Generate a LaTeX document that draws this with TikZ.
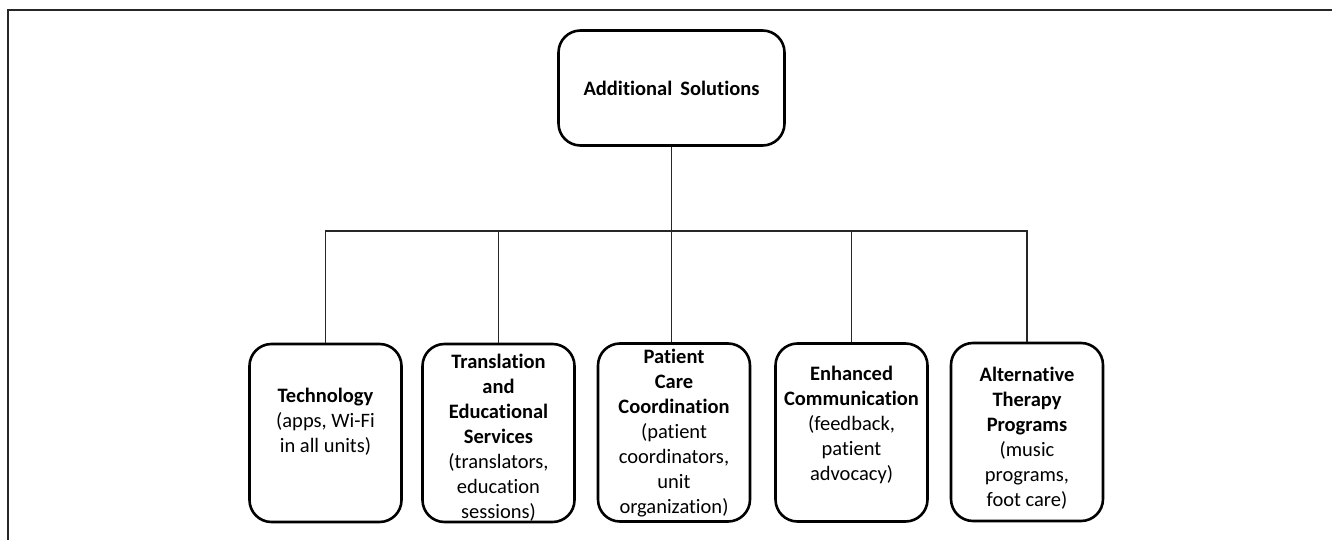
\documentclass[tikz,border=0pt]{standalone}
\usepackage{fontspec}
\setmainfont[Ligatures={NoCommon}]{Carlito}
\begin{document}
\begin{tikzpicture}[x=1pt,y=-1pt,
  topbox/.style={draw=black,line width=2.6pt,rounded corners=22pt,minimum width=226pt,minimum height=115pt,align=center,font=\fontsize{20.5}{25}\selectfont\bfseries},
  childbox/.style={draw=black,line width=2.6pt,rounded corners=22pt,minimum width=152pt,minimum height=178pt},
  childtext/.style={align=center,inner sep=0pt,font=\fontsize{20.5}{25}\selectfont},
  link/.style={draw=black!85,line width=1.3pt},
  frame/.style={draw=black!85,line width=2pt}]
\useasboundingbox (0,0) rectangle (1332,540);
\draw[frame] (8,540) -- (8,10) -- (1332,10);
\node[topbox] (top) at (671.5,88) {Additional\, Solutions};
\node[childbox] (tech) at (325.5,433) {};
\node[childbox] (trans) at (498.5,433) {};
\node[childbox] (pc) at (674,432.5) {};
\node[childbox] (enh) at (851.5,432.5) {};
\node[childbox] (alt) at (1027,432) {};
\node[childtext] (techt) at (325.5,422) {\textbf{Technology}\\(apps, Wi-Fi\\in all units)};
\node[childtext] (transt) at (498.5,437.5) {\textbf{Translation}\\\textbf{and}\\\textbf{Educational}\\\textbf{Services}\\(translators,\\education\\sessions)};
\node[childtext] (pct) at (674,433) {\textbf{Patient}\\\textbf{Care}\\\textbf{Coordination}\\(patient\\coordinators,\\unit\\organization)};
\node[childtext] (enht) at (851.5,425) {\textbf{Enhanced}\\\textbf{Communication}\\(feedback,\\patient\\advocacy)};
\node[childtext] (altt) at (1027,438.5) {\textbf{Alternative}\\\textbf{Therapy}\\\textbf{Programs}\\(music\\programs,\\foot care)};
\coordinate (bar) at (672,231);
\draw[link] (top.south) -- (top.south |- pc.north);
\draw[link] (tech.north) -- (tech.north |- bar) -- (alt.north |- bar) -- (alt.north);
\draw[link] (trans.north) -- (trans.north |- bar);
\draw[link] (enh.north) -- (enh.north |- bar);
\end{tikzpicture}
\end{document}
